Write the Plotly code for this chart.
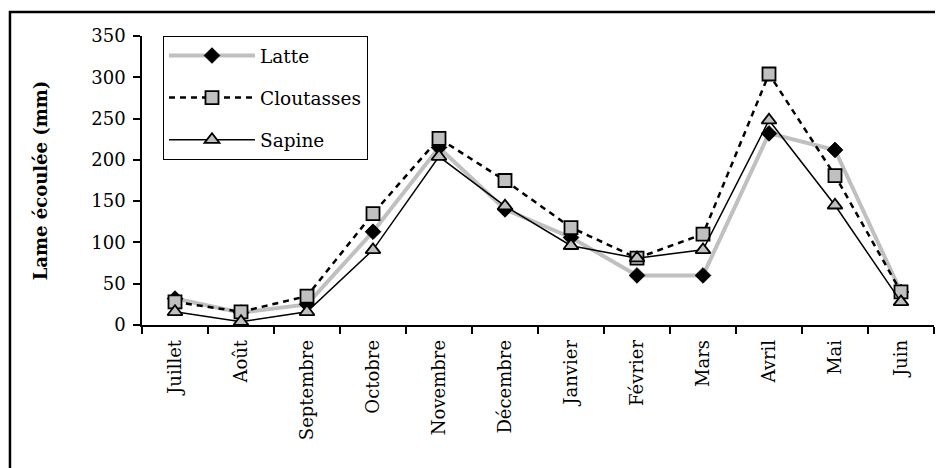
import plotly.graph_objects as go

mois = ["Juillet", "Août", "Septembre", "Octobre", "Novembre", "Décembre",
        "Janvier", "Février", "Mars", "Avril", "Mai", "Juin"]
latte = [32, 15, 25, 113, 215, 140, 106, 60, 60, 232, 212, 40]
cloutasses = [28, 16, 35, 135, 226, 175, 118, 81, 110, 304, 181, 40]
sapine = [16, 4, 16, 91, 204, 144, 96, 81, 91, 248, 145, 28]

FONT = "DejaVu Serif, Liberation Serif, serif"
GRIS = "#c0c0c0"

fig = go.Figure()
fig.add_trace(go.Scatter(
    x=mois, y=latte, name="Latte", mode="lines+markers", legendgroup="a",
    line=dict(color=GRIS, width=4),
    marker=dict(symbol="diamond", size=12, color="black", line=dict(color="black", width=1))))
fig.add_trace(go.Scatter(
    x=mois, y=cloutasses, name="Cloutasses", mode="lines+markers", legendgroup="b",
    line=dict(color="black", width=2.5, dash="6px,5px"),
    marker=dict(symbol="square", size=13, color=GRIS, line=dict(color="black", width=1.8))))
fig.add_trace(go.Scatter(
    x=mois, y=sapine, name="Sapine", mode="lines+markers", legendgroup="c",
    line=dict(color="black", width=1.5),
    marker=dict(symbol="triangle-up", size=13, color=GRIS, line=dict(color="black", width=1.8))))

# la page a une marge de 8px, d'où le décalage
fig.update_layout(
    width=935, height=460,
    margin=dict(l=134, r=9, t=28, b=143),
    paper_bgcolor="white", plot_bgcolor="white",
    font=dict(family=FONT, size=18, color="black"),
    showlegend=True,
    legend=dict(x=0.0265, y=1.0, xanchor="left", yanchor="top",
                bgcolor="white", bordercolor="black", borderwidth=1,
                itemwidth=86, tracegroupgap=15, traceorder="grouped",
                font=dict(family=FONT, size=18.5)),
    shapes=[dict(type="rect", xref="paper", yref="paper",
                 x0=-0.1667, x1=1.03, y0=-0.55, y1=1.083,
                 line=dict(color="black", width=2.5), layer="below")],
)
fig.update_xaxes(
    type="category", range=[-0.5, 11.5], tickson="boundaries",
    showline=True, linecolor="black", linewidth=1.5, showgrid=False,
    ticks="outside", ticklen=7, tickcolor="black", tickwidth=1.5,
    tickangle=-90, tickfont=dict(family=FONT, size=18), ticklabelstandoff=6)
fig.update_yaxes(
    range=[0, 350], dtick=50, showline=True, linecolor="black", linewidth=1.5,
    showgrid=False, zeroline=False,
    ticks="outside", ticklen=7, tickcolor="black", tickwidth=1.5,
    tickfont=dict(family=FONT, size=18), ticklabelstandoff=4,
    title=dict(text="<b>Lame écoulée (mm)</b>", font=dict(family=FONT, size=18), standoff=39))

fig.write_html("out.html")
